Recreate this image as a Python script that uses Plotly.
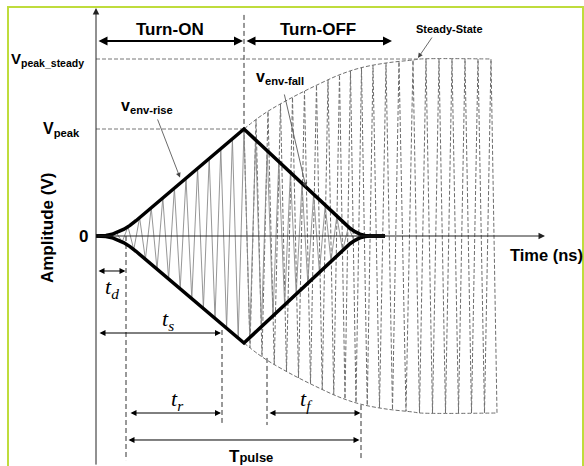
import numpy as np
import plotly.graph_objects as go

# ---- timing markers (ns) ----
T_PEAK = 14.8          # end of turn-on / start of turn-off
T_D = 3.0              # delay time
T_S_END = 12.6         # end of t_s / t_r
T_F_START = 17.1
T_F_END = 26.5
T_OFF_END = 29.6

# ---- amplitude levels (normalised to V_peak_steady = 1) ----
V_PEAK_STEADY = 1.0
V_PEAK = 0.6045

# ---- envelope during the pulse (rise then fall) ----
env_t = [0.0, 0.4, 1.0, 1.6, 2.2, 2.8, 3.4, 4.0, 14.8, 24.96, 25.4, 25.9, 26.4, 26.9, 27.4, 28.9]
env_v = [0.0, 0.0, 0.0024, 0.0096, 0.0215, 0.0384, 0.0599, 0.0864, 0.6045,
         0.065, 0.0435, 0.0243, 0.0107, 0.0027, 0.0, 0.0]

# ---- steady-state envelope (what the carrier would reach without turn-off) ----
steady_t = [14.8, 16.2, 17.4, 19.7, 22.1, 24.3, 26.4, 29.0, 31.7, 32.4, 40.1]
steady_v = [0.6045, 0.6667, 0.7119, 0.7853, 0.8531, 0.9096, 0.9492, 0.9774, 0.9944, 1.0, 1.0]

# ---- carrier crest times ----
pulse_crests = [0.88, 2.04, 3.20, 4.36, 5.52, 6.68, 7.84, 9.00, 10.16, 11.32, 12.48, 13.64, 14.80,
                15.96, 17.12, 18.28, 19.44, 20.60, 21.76, 22.92, 24.08, 25.24, 26.40, 27.56]
steady_crests = [14.80, 16.00, 17.20, 18.45, 19.65, 20.85, 22.05, 23.20, 24.35, 25.45, 26.55,
                 27.70, 29.00, 30.30, 31.70, 33.00, 34.30, 35.60, 36.90, 38.20, 39.50]
STEADY_LAST_TROUGH = 40.1


def zigzag(crests, last_trough, env_x, env_y):
    """Triangle carrier: crest at each listed time, trough half-way to the next."""
    xs, ys = [], []
    for i, c in enumerate(crests):
        trough = (c + crests[i + 1]) / 2 if i + 1 < len(crests) else last_trough
        xs += [c, trough]
        ys += [np.interp(c, env_x, env_y), -np.interp(trough, env_x, env_y)]
    return xs, ys


sx, sy = zigzag(pulse_crests, pulse_crests[-1] + 0.58, env_t, env_v)
sx = [0.0] + sx + [29.0]
sy = [0.0] + sy + [0.0]
dx, dy = zigzag(steady_crests, STEADY_LAST_TROUGH, steady_t, steady_v)

fig = go.Figure()

# carriers
fig.add_trace(go.Scatter(x=dx, y=dy, mode="lines",
                         line=dict(color="#6e6e6e", width=1, dash="4px,2px")))
fig.add_trace(go.Scatter(x=sx, y=sy, mode="lines",
                         line=dict(color="#8a8a8a", width=0.9)))

# steady-state envelope (dashed)
fig.add_trace(go.Scatter(x=steady_t[:-1] + [39.5], y=steady_v, mode="lines",
                         line=dict(color="#6e6e6e", width=1, dash="4px,2px", shape="spline")))
fig.add_trace(go.Scatter(x=steady_t, y=[-v for v in steady_v], mode="lines",
                         line=dict(color="#6e6e6e", width=1, dash="4px,2px", shape="spline")))

# reference levels
fig.add_trace(go.Scatter(x=[0, 32.4], y=[V_PEAK_STEADY, V_PEAK_STEADY], mode="lines",
                         line=dict(color="#777777", width=1, dash="4px,2px")))
fig.add_trace(go.Scatter(x=[0, T_PEAK], y=[V_PEAK, V_PEAK], mode="lines",
                         line=dict(color="#777777", width=1, dash="4px,2px")))

# vertical timing guides
guides = [
    (T_PEAK, 1.249, V_PEAK),
    (T_D, 0.0, -1.266),
    (T_S_END, -0.531, -1.056),
    (T_F_START, -0.689, -1.068),
    (T_F_END, -0.955, -1.266),
]
for gx, y0, y1 in guides:
    fig.add_trace(go.Scatter(x=[gx, gx], y=[y0, y1], mode="lines",
                             line=dict(color="#333333", width=1, dash="5px,3px")))

# pulse envelope (thick)
fig.add_trace(go.Scatter(x=env_t, y=env_v, mode="lines",
                         line=dict(color="black", width=3.5)))
fig.add_trace(go.Scatter(x=env_t, y=[-v for v in env_v], mode="lines",
                         line=dict(color="black", width=3.5)))

ann = []


def arrow(x0, y0, x1, y1, width=1.0, both=True, head=2, size=1.0, color="black"):
    ann.append(dict(x=x1, y=y1, ax=x0, ay=y0, xref="x", yref="y", axref="x", ayref="y",
                    text="", showarrow=True, arrowhead=head, startarrowhead=head,
                    arrowsize=size, startarrowsize=size, arrowwidth=width,
                    arrowcolor=color, arrowside="end+start" if both else "end",
                    standoff=0, startstandoff=0))


def label(x, y, text, size=17, family="Liberation Sans, Arial", xanchor="center", angle=0):
    ann.append(dict(x=x, y=y, xref="x", yref="y", text=text, showarrow=False,
                    xanchor=xanchor, yanchor="middle", textangle=angle,
                    font=dict(family=family, size=size, color="black")))


# axes
arrow(0, 0, 44.9, 0, width=1, both=False, size=1.3, color="#222222")
arrow(0, -1.3, 0, 1.288, width=1, both=False, size=1.3, color="#222222")

# phase spans
arrow(0.1, 1.1017, T_PEAK - 0.1, 1.1017, width=2, size=0.9)
arrow(T_PEAK + 0.1, 1.1017, T_OFF_END, 1.1017, width=2, size=0.9)

# timing spans
arrow(0.1, -0.1977, T_D - 0.05, -0.1977, width=1, size=1.2)
arrow(0.2, -0.548, T_S_END - 0.1, -0.548, width=1, size=1.2)
arrow(T_D + 0.3, -1.0, T_S_END - 0.1, -1.0, width=1, size=1.2)
arrow(T_F_START + 0.1, -1.0, T_F_END - 0.05, -1.0, width=1, size=1.2)
arrow(T_D + 0.1, -1.1525, T_F_END - 0.15, -1.1525, width=1, size=1.2)

# pointers
arrow(6.1, 0.667, 8.4, 0.33, width=0.8, both=False, size=1.2, color="#444444")
arrow(18.8, 0.808, 21.0, 0.275, width=0.8, both=False, size=1.2, color="#444444")
arrow(33.7, 1.13, 32.2, 1.006, width=0.8, both=False, size=1.2, color="#444444")

# text
label(T_PEAK / 2, 1.164, "<b>Turn-ON</b>")
label((T_PEAK + T_OFF_END) / 2, 1.164, "<b>Turn-OFF</b>")
label(35.35, 1.169, "<b>Steady-State</b>", size=11)
label(-1.0, 1.0, "<b>V<sub>peak_steady</sub></b>", size=15, xanchor="right")
label(-1.4, V_PEAK, "<b>V<sub>peak</sub></b>", size=16, xanchor="right")
label(-0.6, 0.0, "<b>0</b>", xanchor="right")
label(-4.9, 0.045, "<b>Amplitude (V)</b>", angle=-90)
label(45.0, -0.107, "<b>Time (ns)</b>", size=16.5)
label(5.1, 0.729, "<b>v<sub>env-rise</sub></b>", size=16)
label(18.4, 0.898, "<b>v<sub>env-fall</sub></b>", size=16)
serif = "Liberation Serif, Times New Roman"
label(1.6, -0.294, "<i>t<sub>d</sub></i>", size=22, family=serif)
label(7.2, -0.475, "<i>t<sub>s</sub></i>", size=22, family=serif)
label(8.1, -0.927, "<i>t<sub>r</sub></i>", size=22, family=serif)
label(21.0, -0.927, "<i>t<sub>f</sub></i>", size=22, family=serif)
label(15.5, -1.243, "<b>T<span style='font-size:13px'>pulse</span></b>", size=17)

fig.update_layout(
    width=584, height=466,
    margin=dict(l=0, r=0, t=0, b=0),
    paper_bgcolor="white", plot_bgcolor="white",
    showlegend=False,
    xaxis=dict(range=[-9.6, 48.8], visible=False, fixedrange=True),
    yaxis=dict(range=[-230 / 177, 236 / 177], visible=False, fixedrange=True),
    annotations=ann,
    shapes=[dict(type="path", xref="paper", yref="paper",
                 path="M 0.0137,0 L 0.0137,0.985 L 0.9983,0.985 L 0.9983,0",
                 line=dict(color="#bfdc3c", width=2))],
)

fig.write_html("out.html")
